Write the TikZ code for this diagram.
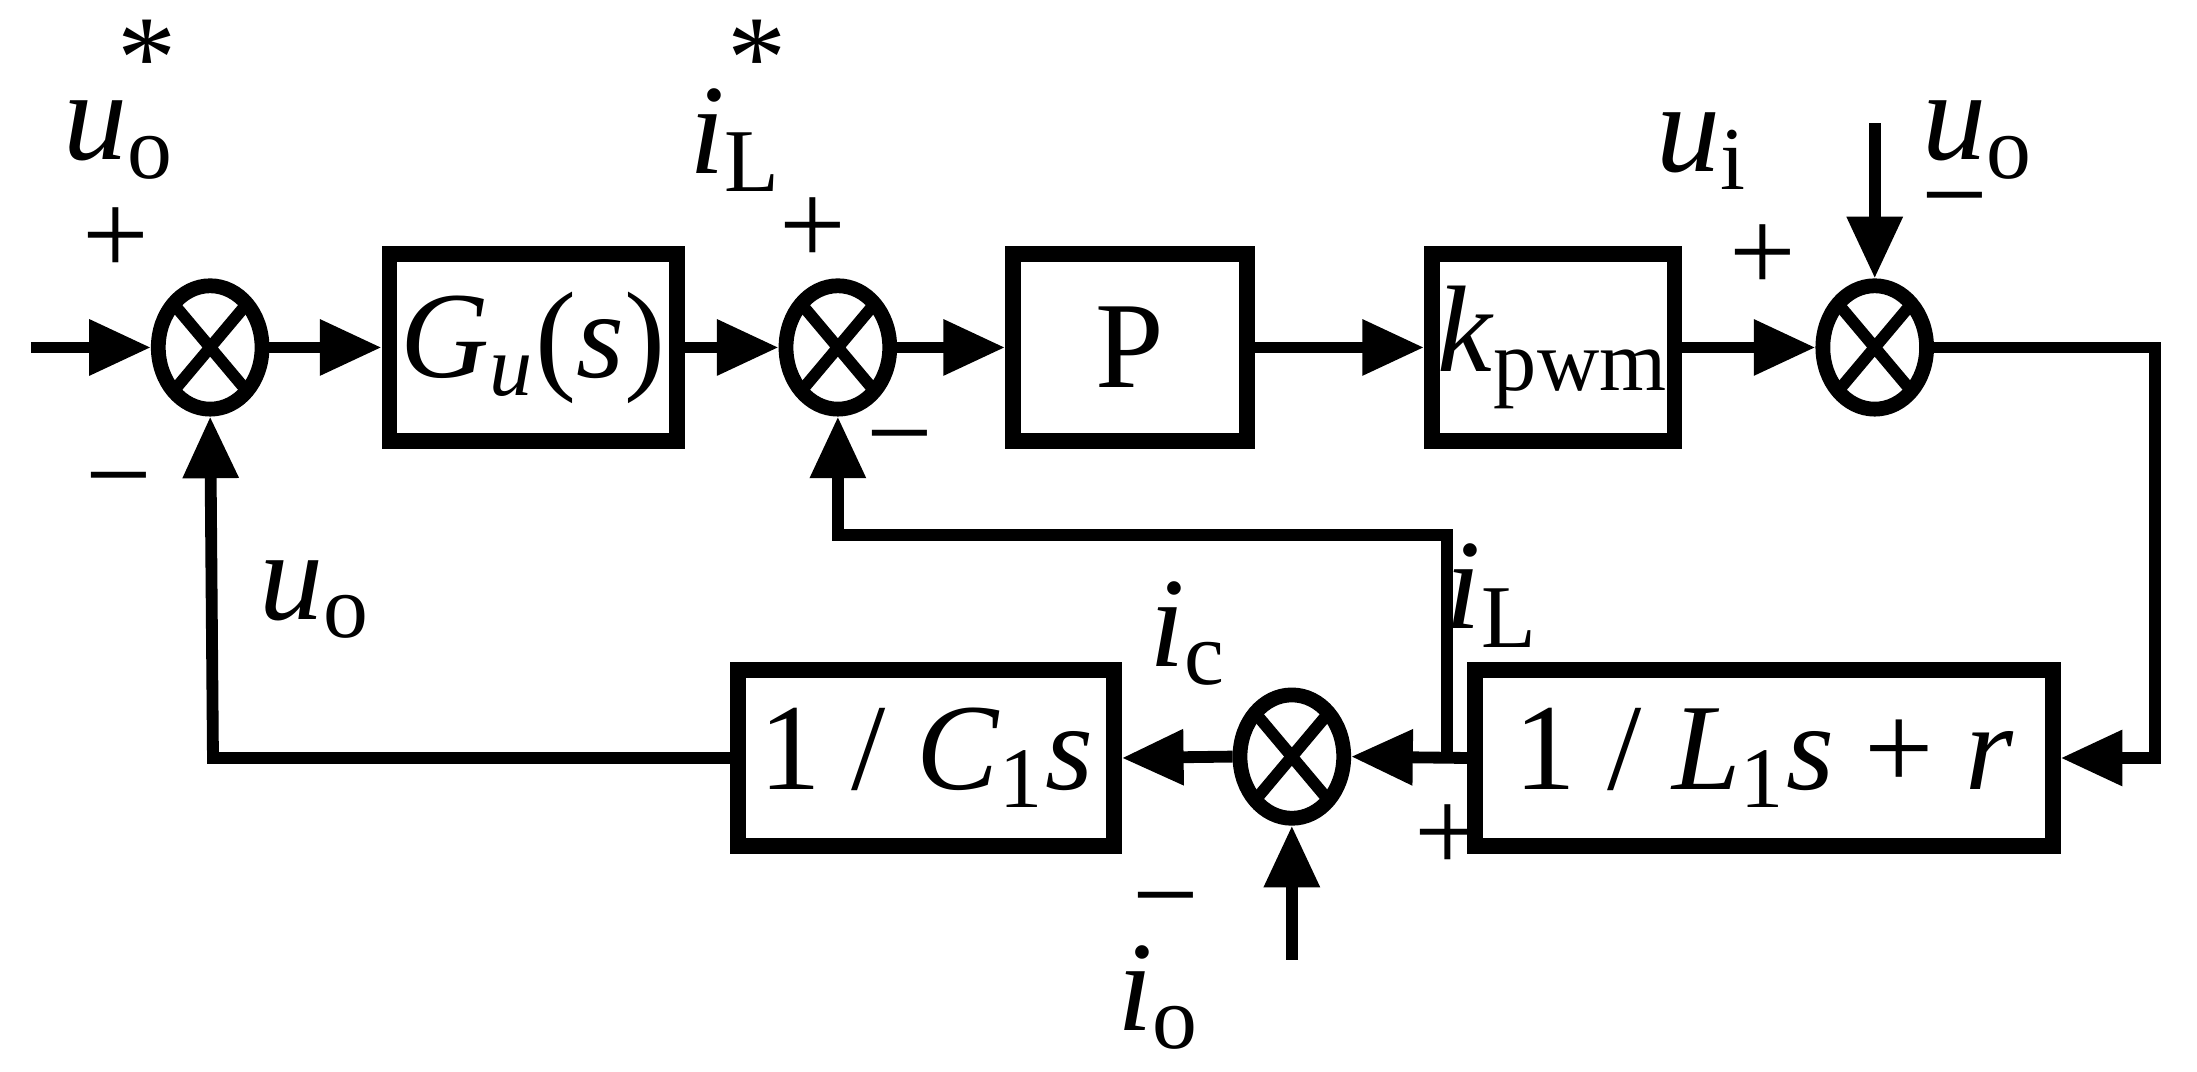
\documentclass[tikz,border=0pt]{standalone}
\usepackage{fontspec}
\setmainfont{Liberation Serif}
\usetikzlibrary{arrows.meta,shapes.geometric}
\newcommand{\mysub}[1]{\textsubscript{\upshape #1}}
\begin{document}
\begin{tikzpicture}[x=0.01cm,y=-0.01cm,line width=2.4pt,
 blk/.style={draw,rectangle,line width=3.2pt,inner sep=0pt,font=\fontsize{25}{30}\selectfont},
 sum/.style={draw,ellipse,minimum width=0.74cm,minimum height=0.88cm,inner sep=0pt,line width=3pt,path picture={
   \draw[line width=2.4pt] (path picture bounding box.north west)--(path picture bounding box.south east)
   (path picture bounding box.north east)--(path picture bounding box.south west);}},
 ar/.style={-{Triangle[length=0.44cm,width=0.38cm]}},
 lb/.style={font=\fontsize{26}{30}\selectfont\itshape,inner sep=0pt},
 sg/.style={font=\fontsize{24}{28}\selectfont,inner sep=0pt}]
\useasboundingbox (0,0) rectangle (1568,765);
\node[sum] (s1) at (150,248) {};
\node[sum] (s2) at (598,248) {};
\node[sum] (s3) at (1338,248) {};
\node[sum] (s4) at (922,540) {};
\node[blk,minimum width=2.05cm,minimum height=1.33cm] (g) at (380.5,248) {\textit{G}\textsubscript{\textit{u}}(\textit{s})};
\node[blk,minimum width=1.67cm,minimum height=1.33cm] (p) at (806.5,248) {P};
\node[blk,minimum width=1.73cm,minimum height=1.33cm] (k) at (1108.5,248) {\textit{k}\mysub{pwm}};
\node[blk,minimum width=4.12cm,minimum height=1.26cm] (l) at (1259,541) {1 / \textit{L}\mysub{1}\textit{s} + \textit{r}};
\node[blk,minimum width=2.68cm,minimum height=1.26cm] (c) at (661,541) {1 / \textit{C}\mysub{1}\textit{s}};
\coordinate (in) at (22,248);
\coordinate (uo) at (1338,88);
\coordinate (io) at (922,685);
\coordinate (r1) at (1538,248);
\coordinate (r2) at (1538,541);
\coordinate (br) at (1033,541);
\coordinate (f1) at (1033,382);
\coordinate (f2) at (598,382);
\coordinate (b1) at (152,541);
\draw[ar] (in)--(s1.west);
\draw[ar] (s1.east)--(g.west);
\draw[ar] (g.east)--(s2.west);
\draw[ar] (s2.east)--(p.west);
\draw[ar] (p.east)--(k.west);
\draw[ar] (k.east)--(s3.west);
\draw[ar] (uo)--(s3.north);
\draw[ar] (s3.east)--(r1)--(r2)--(l.east);
\draw[ar] (l.west)--(s4.east);
\draw[ar] (s4.west)--(c.east);
\draw[ar] (io)--(s4.south);
\draw[ar] (c.west)--(b1)--(s1.south);
\draw[ar] (br)--(f1)--(f2)--(s2.south);
\node[lb] at (85,100) {u\mysub{o}};
\node[sg] at (105,42) {*};
\node[lb] at (525,100) {i\mysub{L}};
\node[sg] at (540,42) {*};
\node[lb] at (1215,108) {u\mysub{i}};
\node[lb] at (1412,100) {u\mysub{o}};
\node[lb] at (225,428) {u\mysub{o}};
\node[lb] at (1065,425) {i\mysub{L}};
\node[lb] at (848,452) {i\mysub{c}};
\node[lb] at (827,712) {i\mysub{o}};
\node[sg] at (83,172) {+};
\node[sg] at (580,165) {+};
\node[sg] at (1258,184) {+};
\node[sg] at (1033,598) {+};
\node[sg] at (85,352) {−};
\node[sg] at (642,322) {−};
\node[sg] at (1395,152) {−};
\node[sg] at (832,652) {−};
\end{tikzpicture}
\end{document}
